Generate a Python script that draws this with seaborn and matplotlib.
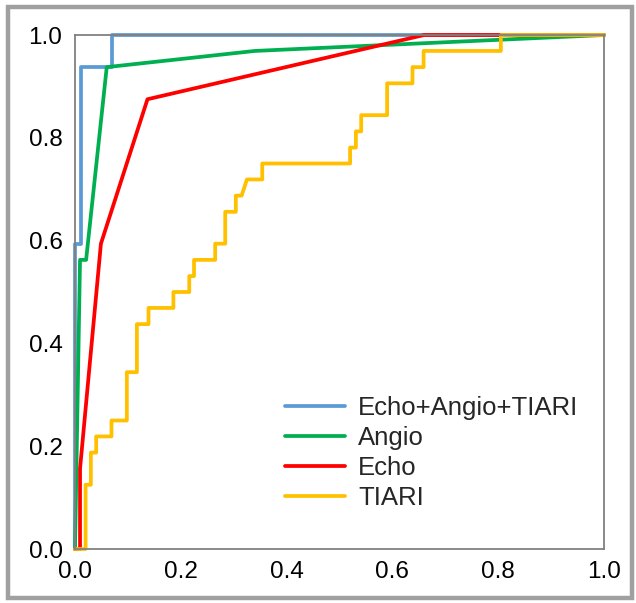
import matplotlib
matplotlib.use("Agg")
import matplotlib.pyplot as plt
import seaborn as sns
import pandas as pd
from matplotlib.patches import Rectangle

# ROC curve points
combo_fpr = [0.0, 0.0, 0.011, 0.011, 0.069, 0.069, 1.0]
combo_tpr = [0.0, 0.594, 0.594, 0.9375, 0.9375, 1.0, 1.0]

angio_fpr = [0.0, 0.0095, 0.021, 0.06, 0.34, 1.0]
angio_tpr = [0.0, 0.5625, 0.5625, 0.9375, 0.969, 1.0]

echo_fpr = [0.0, 0.0095, 0.0095, 0.049, 0.137, 0.66, 1.0]
echo_tpr = [0.0, 0.0, 0.156, 0.594, 0.875, 1.0, 1.0]

tiari_fpr = [0.0, 0.020, 0.020, 0.030, 0.030, 0.040, 0.040, 0.069, 0.069, 0.098,
             0.098, 0.117, 0.117, 0.139, 0.139, 0.186, 0.186, 0.216, 0.216, 0.225,
             0.225, 0.265, 0.265, 0.284, 0.284, 0.304, 0.304, 0.315, 0.325, 0.354,
             0.354, 0.520, 0.520, 0.531, 0.531, 0.541, 0.541, 0.590, 0.590, 0.638,
             0.638, 0.659, 0.659, 0.805, 0.805, 1.0]
tiari_tpr = [0.0, 0.0, 0.125, 0.125, 0.1875, 0.1875, 0.219, 0.219, 0.25, 0.25,
             0.344, 0.344, 0.4375, 0.4375, 0.469, 0.469, 0.5, 0.5, 0.531, 0.531,
             0.5625, 0.5625, 0.594, 0.594, 0.656, 0.656, 0.6875, 0.6875, 0.719, 0.719,
             0.75, 0.75, 0.781, 0.781, 0.8125, 0.8125, 0.844, 0.844, 0.906, 0.906,
             0.9375, 0.9375, 0.969, 0.969, 1.0, 1.0]

labels = ["Echo+Angio+TIARI", "Angio", "Echo", "TIARI"]
colors = ["#5B9BD5", "#00B050", "#FF0000", "#FFC000"]

frames = []
for lab, fx, fy in zip(labels,
                       [combo_fpr, angio_fpr, echo_fpr, tiari_fpr],
                       [combo_tpr, angio_tpr, echo_tpr, tiari_tpr]):
    d = pd.DataFrame({"fpr": fx, "tpr": fy})
    d["model"] = lab
    frames.append(d)
df = pd.concat(frames, ignore_index=True)

sns.set_theme(style="white")
plt.rcParams["font.family"] = ["Liberation Sans", "DejaVu Sans"]

fig = plt.figure(figsize=(6.36, 6.03), dpi=100)
ax = fig.add_axes([75/636, 1-549/603, 529/636, 514/603])

for lab, col in zip(labels, colors):
    sub = df[df["model"] == lab]
    sns.lineplot(data=sub, x="fpr", y="tpr", sort=False, estimator=None,
                 color=col, linewidth=2.7, ax=ax, label=lab, clip_on=False)

ax.set_xlim(0, 1)
ax.set_ylim(0, 1)
ticks = [0.0, 0.2, 0.4, 0.6, 0.8, 1.0]
ax.set_xticks(ticks)
ax.set_yticks(ticks)
ax.set_xticklabels([f"{t:.1f}" for t in ticks])
ax.set_yticklabels([f"{t:.1f}" for t in ticks])
ax.tick_params(axis="both", length=0, labelsize=17.5, colors="#000000")
ax.tick_params(axis="x", pad=9)
ax.tick_params(axis="y", pad=9)
ax.set_xlabel("")
ax.set_ylabel("")
for s in ax.spines.values():
    s.set_color("#808080")
    s.set_linewidth(1.3)

leg = ax.legend(loc="upper left", bbox_to_anchor=(0.397, 0.298),
                frameon=False, fontsize=18.5, handlelength=2.35,
                handletextpad=0.5, labelspacing=0.24, borderpad=0,
                borderaxespad=0)

fig.patches.append(Rectangle((8/636, 5/603), 624/636, 591/603,
                             transform=fig.transFigure, fill=False,
                             edgecolor="#A0A0A0", linewidth=3.2))

fig.savefig("out.png", dpi=100, facecolor="white")
